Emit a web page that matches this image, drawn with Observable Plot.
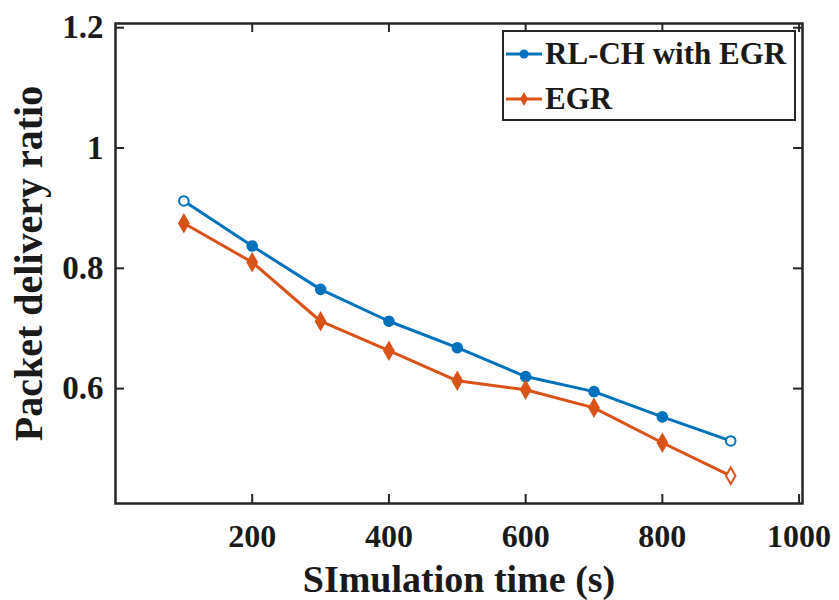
<!DOCTYPE html>
<html>
<head>
<meta charset="utf-8">
<script src="https://cdn.jsdelivr.net/npm/d3@7"></script>
<script src="https://cdn.jsdelivr.net/npm/@observablehq/plot@0.6"></script>
<style>
  html, body { margin: 0; padding: 0; background: #fff; }
  #wrap { position: relative; width: 839px; height: 600px; }
  #legend {
    position: absolute; left: 502px; top: 30px; width: 290px; height: 87px;
    border: 2.5px solid #262626; background: #fff;
    font-family: "Liberation Serif", serif; font-weight: bold; font-size: 31px; color: #1a1a1a;
  }
  .row { position: absolute; left: 2px; height: 40px; display: flex; align-items: center; }
  .row svg { margin-right: 3px; }
</style>
</head>
<body>
<div id="wrap"></div>
<script>
const simTime = [100, 200, 300, 400, 500, 600, 700, 800, 900];
const rlchEgr = [0.912, 0.837, 0.765, 0.712, 0.668, 0.620, 0.595, 0.553, 0.513];
const egr     = [0.875, 0.810, 0.712, 0.663, 0.613, 0.598, 0.568, 0.510, 0.455];
const seriesNames = ["RL-CH with EGR", "EGR"];
const seriesColors = ["#0072BD", "#D95319"];
const xTicks = [200, 400, 600, 800, 1000];
const yTicks = [0.6, 0.8, 1, 1.2];

const W = 839, H = 600;
const mL = 115, mR = 37, mT = 23, mB = 97;
const plotW = W - mL - mR, plotH = H - mT - mB;
const tick = 9;

const blue = simTime.map((t, i) => ({t, v: rlchEgr[i], i}));
const orange = simTime.map((t, i) => ({t, v: egr[i], i}));
const font = "Liberation Serif";

const chart = Plot.plot({
  width: W, height: H,
  marginLeft: mL, marginRight: mR, marginTop: mT, marginBottom: mB,
  style: {fontFamily: font, color: "#1a1a1a", background: "#fff"},
  x: {domain: [0, 1005]},
  y: {domain: [0.409, 1.207]},
  marks: [
    Plot.axisX(xTicks, {tickSize: 0, tickPadding: 21, fontSize: 32, fontWeight: "bold", label: null,
      tickFormat: d => String(d)}),
    Plot.axisY(yTicks, {tickSize: 0, tickPadding: 12, fontSize: 33, fontWeight: "bold", label: null,
      tickFormat: d => String(d)}),
    Plot.tickX(xTicks, {x: d => d, insetTop: plotH - tick, stroke: "#262626", strokeWidth: 2}),
    Plot.tickX(xTicks, {x: d => d, insetBottom: plotH - tick, stroke: "#262626", strokeWidth: 2}),
    Plot.tickY(yTicks, {y: d => d, insetRight: plotW - tick, stroke: "#262626", strokeWidth: 2}),
    Plot.tickY(yTicks, {y: d => d, insetLeft: plotW - tick, stroke: "#262626", strokeWidth: 2}),
    Plot.line(blue, {x: "t", y: "v", stroke: seriesColors[0], strokeWidth: 3}),
    Plot.line(orange, {x: "t", y: "v", stroke: seriesColors[1], strokeWidth: 3}),
    Plot.dot(blue, {x: "t", y: "v", r: 4.8, stroke: seriesColors[0], strokeWidth: 2,
      fill: d => (d.i === 0 || d.i === simTime.length - 1) ? "#fff" : seriesColors[0]}),
    Plot.dot(orange, {x: "t", y: "v", r: 5, symbol: "diamond", stroke: seriesColors[1], strokeWidth: 2,
      fill: d => (d.i === simTime.length - 1) ? "#fff" : seriesColors[1]}),
    Plot.frame({stroke: "#262626", strokeWidth: 2.5}),
    Plot.text(["SImulation time (s)"], {frameAnchor: "bottom", textAnchor: "middle", lineAnchor: "bottom",
      dy: 88, fontSize: 38, fontWeight: "bold", fill: "#1a1a1a"}),
    Plot.text(["Packet delivery ratio"], {frameAnchor: "left", textAnchor: "middle", lineAnchor: "middle",
      dx: -86, rotate: -90, fontSize: 40, fontWeight: "bold", fill: "#1a1a1a"})
  ]
});

const wrap = document.getElementById("wrap");
wrap.appendChild(chart);

const legend = document.createElement("div");
legend.id = "legend";
seriesNames.forEach((name, k) => {
  const row = document.createElement("div");
  row.className = "row";
  row.style.top = (k === 0 ? 2 : 47) + "px";
  const sym = k === 0
    ? `<circle cx="18" cy="20" r="4.5" fill="${seriesColors[k]}"/>`
    : `<path d="M18,13 L22,20 L18,27 L14,20 Z" fill="${seriesColors[k]}"/>`;
  row.innerHTML = `<svg width="36" height="40"><line x1="0" y1="20" x2="36" y2="20" stroke="${seriesColors[k]}" stroke-width="3"/>${sym}</svg><span>${name}</span>`;
  legend.appendChild(row);
});
wrap.appendChild(legend);
</script>
</body>
</html>
